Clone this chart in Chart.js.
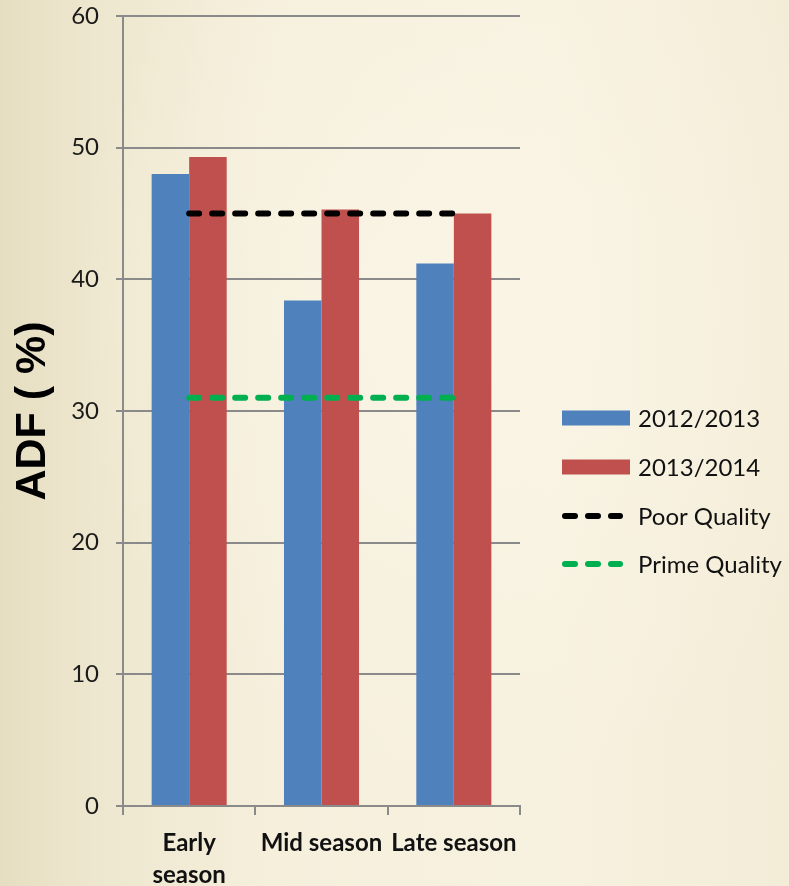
<!DOCTYPE html>
<html>
<head>
<meta charset="utf-8">
<title>ADF by season</title>
<script src="https://cdn.jsdelivr.net/npm/chart.js@4.4.1/dist/chart.umd.min.js"></script>
<style>
    html, body {
        margin: 0;
        padding: 0;
        width: 789px;
        height: 886px;
        overflow: hidden;
    }
    body {
        background:
            radial-gradient(ellipse at 60% 35%, rgba(250, 245, 230, 0.9) 0%, rgba(250, 245, 230, 0) 60%),
            linear-gradient(to right, #e5dec1 0%, #eee7cf 12%, #f5efdc 35%, #f7f1df 70%, #f3ecd7 100%);
    }
    #wrap {
        position: absolute;
        left: 0;
        top: 0;
        width: 789px;
        height: 886px;
    }
</style>
</head>
<body>
<div id="wrap"><canvas id="adfChart" width="789" height="886"></canvas></div>

<script>
/* ---------------- data ---------------- */
const seasons = [["Early", "season"], "Mid season", "Late season"];
const adf2012 = [48.0, 38.4, 41.2];
const adf2013 = [49.3, 45.3, 45.0];
const poorQuality = [45, 45, 45];
const primeQuality = [31, 31, 31];
const yTicks = [0, 10, 20, 30, 40, 50, 60];

const BLUE = "#4f81bd";
const RED = "#c0504d";
const GREEN = "#00b050";
const GRID = "#8a8a8a";
const DASH = [10, 13];

/* ---------------- custom legend (boxes + dashed samples) ---------------- */
const sideLegend = {
    id: "sideLegend",
    afterDraw(chart) {
        const ctx = chart.ctx;
        const x0 = 562, x1 = 630, textX = 638;
        const rows = [418, 467, 516, 564];

        ctx.save();
        ctx.font = "24px Lato";
        ctx.textBaseline = "middle";
        ctx.textAlign = "left";

        chart.data.datasets.forEach((ds, i) => {
            const y = rows[i];
            if (ds.type === "line") {
                ctx.strokeStyle = ds.borderColor;
                ctx.lineWidth = ds.borderWidth;
                ctx.lineCap = "round";
                ctx.setLineDash(ds.borderDash);
                ctx.beginPath();
                ctx.moveTo(x0 + 3, y);
                ctx.lineTo(x1 - 10, y);
                ctx.stroke();
                ctx.setLineDash([]);
            } else {
                ctx.fillStyle = ds.backgroundColor;
                ctx.fillRect(x0, y - 7.5, x1 - x0, 15);
            }
            ctx.fillStyle = "#111";
            ctx.fillText(ds.label, textX, y + 1);
        });
        ctx.restore();
    }
};

/* ---------------- chart ---------------- */
const ctx = document.getElementById("adfChart").getContext("2d");

new Chart(ctx, {
    data: {
        labels: seasons,
        datasets: [
            {
                type: "bar",
                label: "2012/2013",
                data: adf2012,
                backgroundColor: BLUE,
                order: 1
            },
            {
                type: "bar",
                label: "2013/2014",
                data: adf2013,
                backgroundColor: RED,
                order: 1
            },
            {
                type: "line",
                label: "Poor Quality",
                data: poorQuality,
                borderColor: "#000000",
                borderWidth: 6,
                borderDash: DASH,
                borderCapStyle: "round",
                pointRadius: 0,
                fill: false,
                order: 0
            },
            {
                type: "line",
                label: "Prime Quality",
                data: primeQuality,
                borderColor: GREEN,
                borderWidth: 6,
                borderDash: DASH,
                borderCapStyle: "round",
                pointRadius: 0,
                fill: false,
                order: 0
            }
        ]
    },
    options: {
        responsive: false,
        animation: false,
        layout: {
            autoPadding: false,
            padding: { top: 16, right: 269, bottom: 0, left: 0 }
        },
        datasets: {
            bar: {
                categoryPercentage: 0.567,
                barPercentage: 1.0
            }
        },
        plugins: {
            legend: { display: false },
            tooltip: { enabled: false }
        },
        scales: {
            x: {
                grid: {
                    offset: true,
                    drawOnChartArea: false,
                    tickLength: 9,
                    color: GRID,
                    lineWidth: 2
                },
                border: { color: GRID, width: 2 },
                ticks: {
                    color: "#111",
                    padding: 12,
                    maxRotation: 0,
                    autoSkip: false,
                    font: { family: "Lato", size: 24, weight: "bold", lineHeight: 1.33 }
                },
                afterFit(scale) {
                    scale.height = 80;
                    scale.paddingLeft = 0;
                    scale.paddingRight = 0;
                }
            },
            y: {
                min: 0,
                max: 60,
                afterBuildTicks(scale) {
                    scale.ticks = yTicks.map(v => ({ value: v }));
                },
                grid: {
                    color: GRID,
                    lineWidth: 2,
                    tickLength: 7
                },
                border: { color: GRID, width: 2 },
                ticks: {
                    color: "#1a1a1a",
                    padding: 17,
                    font: { family: "Lato", size: 24 }
                },
                title: {
                    display: true,
                    text: "ADF ( %)",
                    color: "#000",
                    padding: { top: 7, bottom: 0 },
                    font: { family: "Liberation Sans", size: 43, weight: "bold" }
                },
                afterFit(scale) {
                    scale.width = 123;
                    scale.paddingTop = 0;
                    scale.paddingBottom = 0;
                }
            }
        }
    },
    plugins: [sideLegend]
});
</script>
</body>
</html>
